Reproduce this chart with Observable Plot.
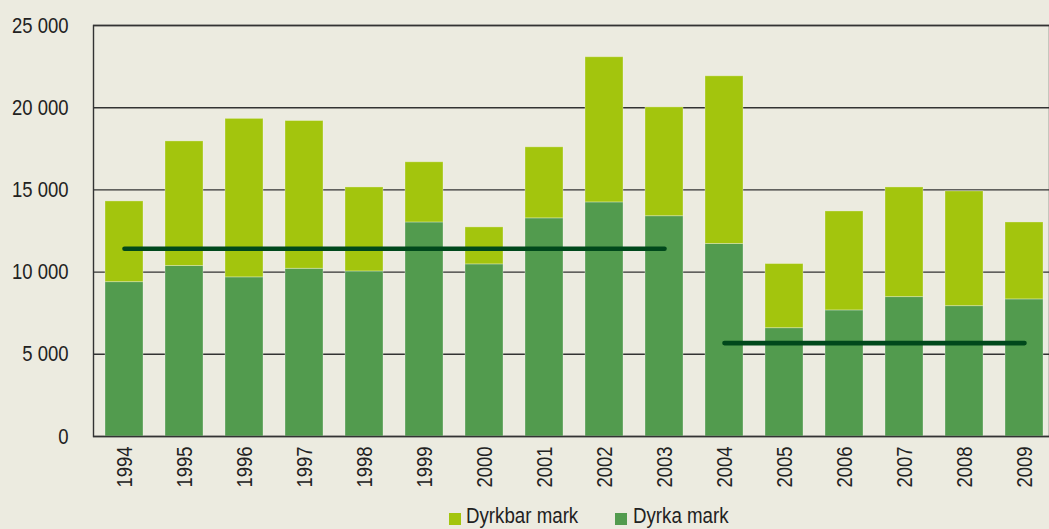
<!DOCTYPE html>
<html>
<head>
<meta charset="utf-8">
<script src="https://cdn.jsdelivr.net/npm/d3@7"></script>
<script src="https://cdn.jsdelivr.net/npm/@observablehq/plot@0.6"></script>
<style>
  html, body { margin: 0; padding: 0; background: #ecebe0; overflow: hidden; width: 1049px; height: 529px; }
  #chart svg { display: block; background: transparent; }
  #legend { position: relative; width: 1049px; height: 29px; font-family: "Liberation Sans", Arial, sans-serif; font-size: 22px; color: #222; }
  #legend .sw { position: absolute; width: 12px; height: 12px; top: 13px; }
  #legend .lb { position: absolute; top: 5px; line-height: 22px; white-space: nowrap; transform: scaleX(0.85); transform-origin: 0 50%; }
</style>
</head>
<body>
<div id="chart"></div>
<div id="legend"></div>
<script>
const years = ["1994","1995","1996","1997","1998","1999","2000","2001","2002","2003","2004","2005","2006","2007","2008","2009"];
const dyrkaMark   = [9390, 10370, 9680, 10200, 10040, 13020, 10470, 13270, 14240, 13400, 11710, 6590, 7670, 8480, 7930, 8340];
const dyrkbarMark = [4910, 7580, 9640, 8990, 5110, 3660, 2250, 4320, 8830, 6620, 10200, 3900, 6020, 6670, 6980, 4680];
const seriesNames = ["Dyrka mark", "Dyrkbar mark"];
const seriesColors = ["#529b4e", "#a3c50d"];
const yTicks = [0, 5000, 10000, 15000, 20000, 25000];
const avg1Years = ["1994", "2003"], avg1Value = 11420;
const avg2Years = ["2004", "2009"], avg2Value = 5680;

const rows = [];
years.forEach((y, i) => {
  rows.push({year: y, series: seriesNames[0], value: dyrkaMark[i]});
  rows.push({year: y, series: seriesNames[1], value: dyrkbarMark[i]});
});
const avgRows = [
  ...avg1Years.map(y => ({year: y, value: avg1Value, g: "a"})),
  ...avg2Years.map(y => ({year: y, value: avg2Value, g: "b"}))
];
const fmt = d => d3.format(",")(d).replace(/,/g, " ");
const font = "'Liberation Sans', Arial, sans-serif";

const chart = Plot.plot({
  width: 1049,
  height: 500,
  marginLeft: 93,
  marginRight: 0,
  marginTop: 25,
  marginBottom: 64,
  style: {background: "transparent", fontFamily: font, fontSize: "22px", color: "#222", overflow: "hidden"},
  x: {type: "band", domain: years, range: [82.8, 1065.3], padding: 0.375},
  y: {domain: [0, 25000]},
  color: {domain: seriesNames, range: seriesColors},
  marks: [
    Plot.ruleY(yTicks, {stroke: "#333", strokeWidth: 1.4}),
    Plot.barY(rows, Plot.stackY({order: seriesNames}, {x: "year", y: "value", fill: "series", z: "series", stroke: "#ffffff", strokeOpacity: 0.3, strokeWidth: 1})),
    Plot.frame({stroke: "#333", strokeWidth: 1.4}),
    Plot.lineY(avgRows, {x: "year", y: "value", z: "g", stroke: "#00481b", strokeWidth: 4.6, strokeLinecap: "round"}),
    Plot.axisY({ticks: yTicks, tickSize: 0, tickPadding: 25, tickFormat: fmt, fontSize: 22, label: null}),
    Plot.axisX({tickSize: 0, tickPadding: 10, tickRotate: -90, fontSize: 22, label: null})
  ]
});
document.getElementById("chart").appendChild(chart);
// condense axis text (reference uses a condensed face)
chart.querySelectorAll("g[aria-label$='tick label'] text").forEach(t => {
  const w = t.getComputedTextLength();
  t.setAttribute("textLength", (w * 0.84).toFixed(1));
  t.setAttribute("lengthAdjust", "spacingAndGlyphs");
});

const legend = document.getElementById("legend");
const legendItems = [
  {name: seriesNames[1], color: seriesColors[1], sx: 449, tx: 466},
  {name: seriesNames[0], color: seriesColors[0], sx: 615, tx: 633}
];
legendItems.forEach(it => {
  const sw = document.createElement("div");
  sw.className = "sw"; sw.style.left = it.sx + "px"; sw.style.background = it.color;
  const lb = document.createElement("div");
  lb.className = "lb"; lb.style.left = it.tx + "px"; lb.textContent = it.name;
  legend.appendChild(sw); legend.appendChild(lb);
});
</script>
</body>
</html>
